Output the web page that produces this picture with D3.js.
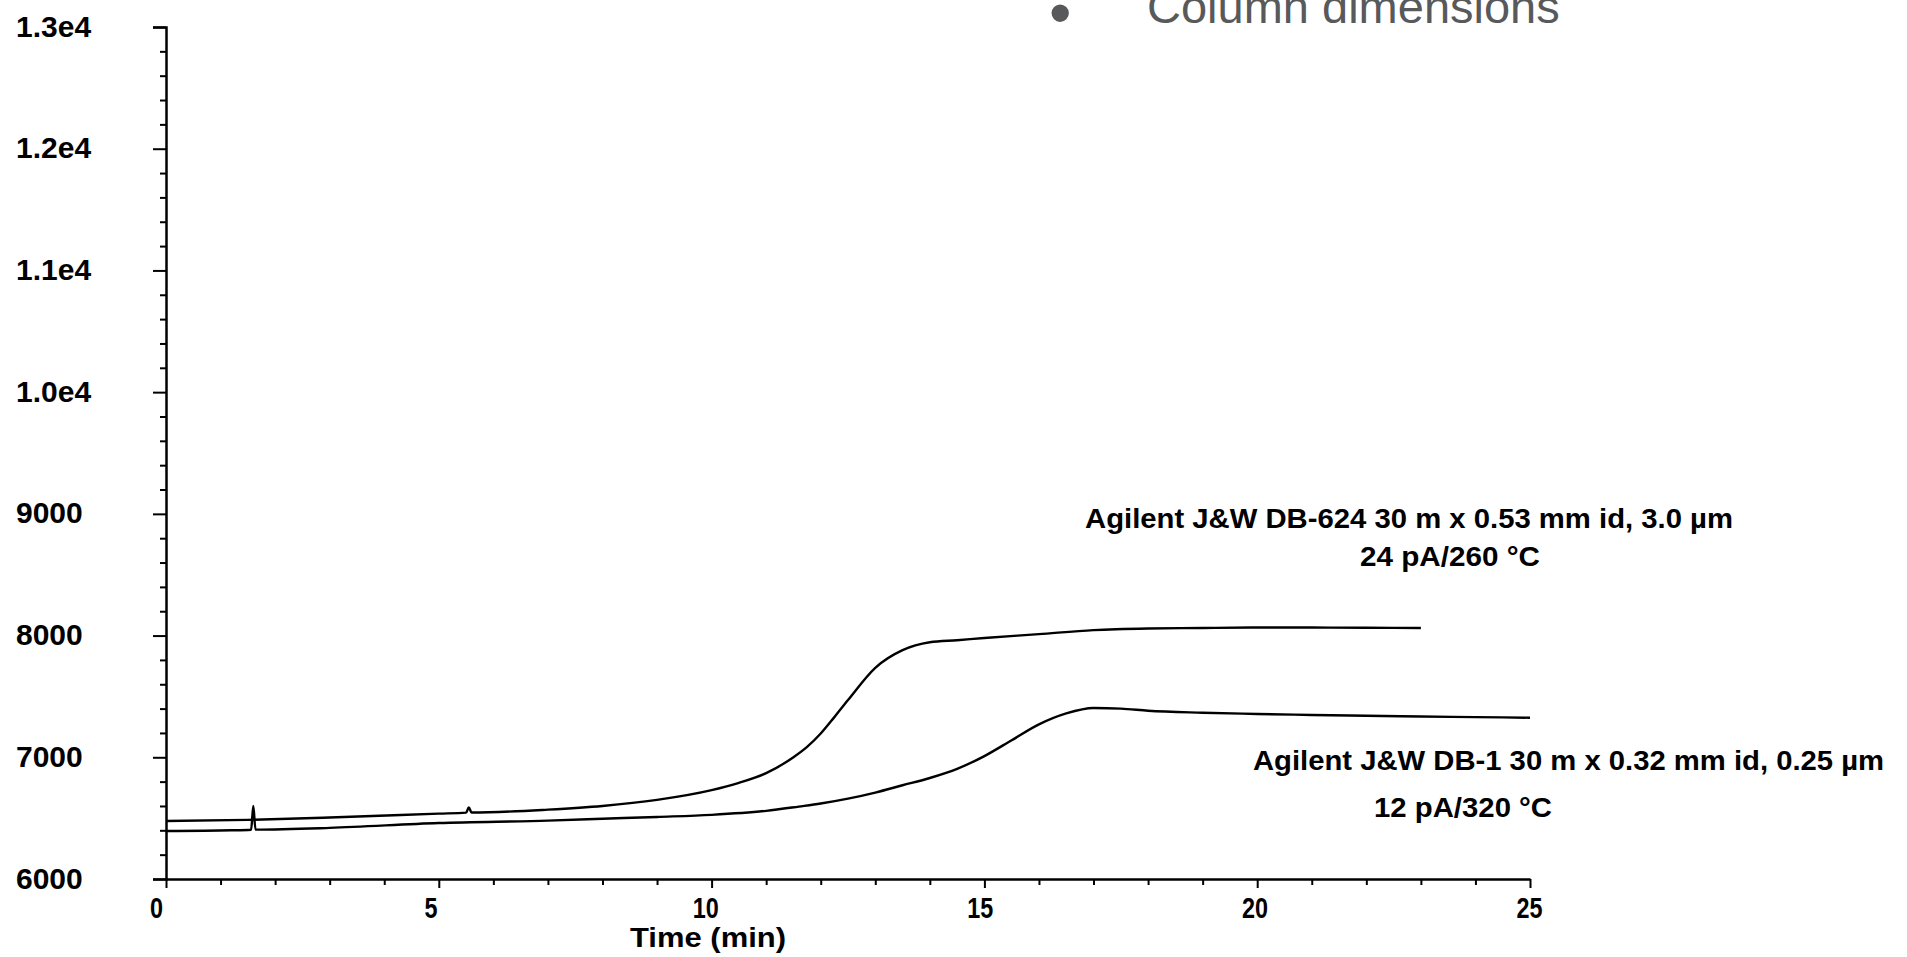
<!DOCTYPE html>
<html>
<head>
<meta charset="utf-8">
<script src="https://cdn.jsdelivr.net/npm/d3@7"></script>
<style>
  body { margin: 0; background: #fff; }
  svg { display: block; font-family: "Liberation Sans", Arial, sans-serif; }
</style>
</head>
<body>
<div id="chart"></div>
<script>
// DB-624 trace (upper)
const db624Time = [0, 1.5, 3, 5, 5.5, 5.55, 5.6, 7, 8, 9, 10, 10.5, 11, 11.5, 11.75, 12, 12.25, 12.5, 13, 13.5, 14, 14.5, 15, 16, 17, 18, 19, 20, 21, 22, 23];
const db624Signal = [6477, 6486, 6505, 6537, 6545, 6588, 6546, 6570, 6600, 6650, 6730, 6790, 6870, 7000, 7085, 7195, 7330, 7470, 7735, 7880, 7945, 7962, 7980, 8012, 8045, 8058, 8062, 8066, 8066, 8064, 8062];

// DB-1 trace (lower)
const db1Time = [0, 1.2, 1.56, 1.6, 1.64, 3, 5, 7, 8, 9, 10, 11, 11.6, 12, 12.5, 13, 13.5, 14, 14.5, 15, 15.5, 16, 16.5, 17, 17.5, 18, 19, 20, 21, 22, 23, 24, 25];
const db1Signal = [6394, 6400, 6405, 6600, 6406, 6420, 6460, 6480, 6495, 6510, 6527, 6560, 6595, 6620, 6660, 6710, 6770, 6830, 6905, 7010, 7140, 7270, 7360, 7405, 7400, 7382, 7366, 7356, 7348, 7341, 7335, 7330, 7325];

const xMajor = [0, 5, 10, 15, 20, 25];
const xMinor = d3.range(0, 26, 1).filter(d => d % 5 !== 0);
const yMajor = [6000, 7000, 8000, 9000, 10000, 11000, 12000, 13000];
const yLabels = ["6000", "7000", "8000", "9000", "1.0e4", "1.1e4", "1.2e4", "1.3e4"];
const yMinor = d3.range(6000, 13001, 200).filter(d => d % 1000 !== 0);

const notes = [
  { text: "Agilent J&W DB-624 30 m x 0.53 mm id, 3.0 µm", x: 1085, y: 528, len: 648 },
  { text: "24 pA/260 °C", x: 1360, y: 566, len: 180 },
  { text: "Agilent J&W DB-1 30 m x 0.32 mm id, 0.25 µm", x: 1253, y: 770, len: 631 },
  { text: "12 pA/320 °C", x: 1374, y: 817, len: 178 }
];

const w = 1907, h = 957;
const x = d3.scaleLinear().domain([0, 25]).range([166, 1530]);
const y = d3.scaleLinear().domain([6000, 13000]).range([879, 27]);
// tick labels sit slightly left of their ticks in the original
const xLabelPos = d3.scaleLinear().domain([0, 25]).range([156, 1529]);

const svg = d3.select("#chart").append("svg")
  .attr("width", w)
  .attr("height", h);

// heading fragment at the top
svg.append("text")
  .attr("x", 1049).attr("y", 35)
  .attr("font-size", 64)
  .attr("fill", "#58595b")
  .text("•");
svg.append("text")
  .attr("x", 1147).attr("y", 23)
  .attr("font-size", 47)
  .attr("fill", "#58595b")
  .text("Column dimensions");

// y axis
const yAxis = svg.append("g")
  .attr("transform", `translate(${x(0)},0)`)
  .call(d3.axisLeft(y).tickValues(yMajor).tickSize(13).tickFormat((d, i) => yLabels[i]));
yAxis.select(".domain").attr("stroke-width", 2.5);
yAxis.selectAll(".tick line").attr("stroke-width", 2);
yAxis.selectAll(".tick text")
  .attr("x", 16 - x(0))
  .attr("dy", "0.3em")
  .attr("text-anchor", "start")
  .attr("font-size", 30)
  .attr("font-weight", "bold")
  .attr("fill", "#000");

const yMinorAxis = svg.append("g")
  .attr("transform", `translate(${x(0)},0)`)
  .call(d3.axisLeft(y).tickValues(yMinor).tickSize(6).tickFormat(""));
yMinorAxis.select(".domain").remove();
yMinorAxis.selectAll(".tick line").attr("stroke-width", 2);

// x axis
const xAxis = svg.append("g")
  .attr("transform", `translate(0,${y(6000)})`)
  .call(d3.axisBottom(x).tickValues(xMajor).tickSize(9).tickSizeOuter(0).tickFormat(d3.format("d")));
xAxis.select(".domain").attr("stroke-width", 2.5);
xAxis.selectAll(".tick line").attr("stroke-width", 2);
xAxis.selectAll(".tick text")
  .attr("y", 39)
  .attr("dy", 0)
  .attr("x", d => xLabelPos(d) - x(d))
  .attr("font-size", 30)
  .attr("font-weight", "bold")
  .attr("fill", "#000")
  .attr("textLength", d => String(d).length * 13)
  .attr("lengthAdjust", "spacingAndGlyphs");

const xMinorAxis = svg.append("g")
  .attr("transform", `translate(0,${y(6000)})`)
  .call(d3.axisBottom(x).tickValues(xMinor).tickSize(6).tickFormat(""));
xMinorAxis.select(".domain").remove();
xMinorAxis.selectAll(".tick line").attr("stroke-width", 2);

svg.append("text")
  .attr("x", 708).attr("y", 947)
  .attr("text-anchor", "middle")
  .attr("font-size", 28)
  .attr("font-weight", "bold")
  .attr("textLength", 156)
  .attr("lengthAdjust", "spacingAndGlyphs")
  .text("Time (min)");

// traces
const line = d3.line()
  .x(d => x(d[0]))
  .y(d => y(d[1]))
  .curve(d3.curveMonotoneX);

svg.append("path")
  .datum(d3.zip(db624Time, db624Signal))
  .attr("fill", "none")
  .attr("stroke", "#000")
  .attr("stroke-width", 2.4)
  .attr("d", line);

svg.append("path")
  .datum(d3.zip(db1Time, db1Signal))
  .attr("fill", "none")
  .attr("stroke", "#000")
  .attr("stroke-width", 2.4)
  .attr("d", line);

// annotations
svg.selectAll("text.note")
  .data(notes)
  .enter()
  .append("text")
  .attr("class", "note")
  .attr("x", d => d.x)
  .attr("y", d => d.y)
  .attr("font-size", 27)
  .attr("font-weight", "bold")
  .attr("textLength", d => d.len)
  .attr("lengthAdjust", "spacingAndGlyphs")
  .text(d => d.text);
</script>
</body>
</html>
